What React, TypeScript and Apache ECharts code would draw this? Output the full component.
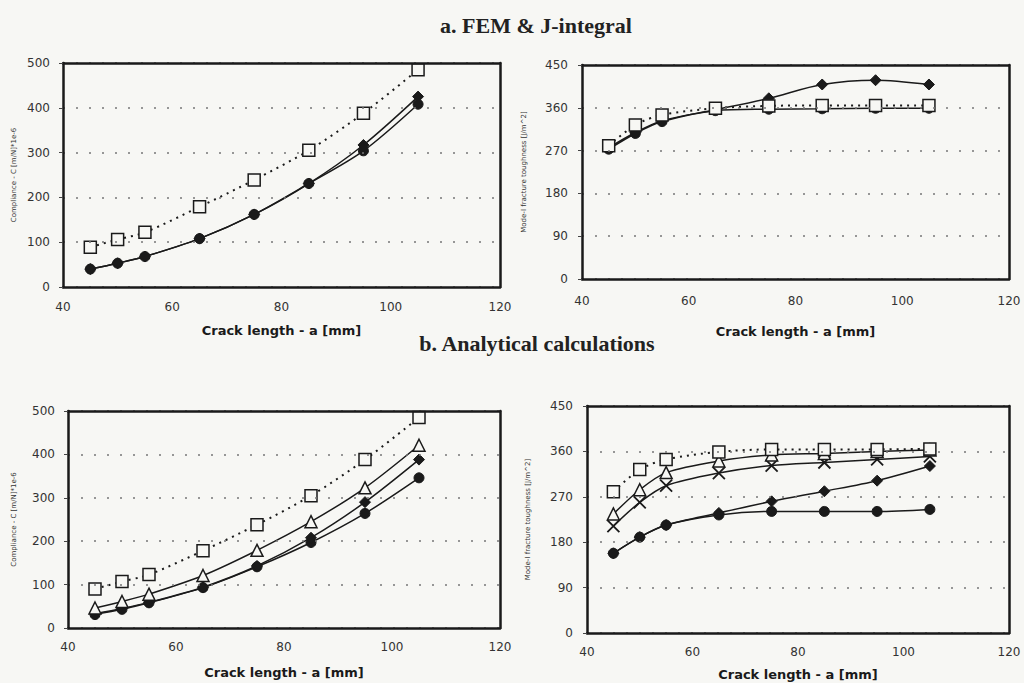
import React, { useEffect, useRef } from "react";
import * as echarts from "echarts";

const xVals = [45, 50, 55, 65, 75, 85, 95, 105];
const xTicks = [40, 60, 80, 100, 120];

// a. FEM & J-integral
const femCompSquare = [89, 106, 122, 179, 239, 305, 388, 485];
const femCompCircle = [40, 53, 68, 108, 162, 231, 304, 408];
const femCompDiamond = [40, 53, 68, 108, 162, 231, 317, 425];
const femToughSquare = [280, 324, 345, 359, 364, 365, 365, 365];
const femToughCircle = [273, 306, 331, 354, 357, 358, 359, 359];
const femToughDiamond = [276, 308, 333, 356, 380, 409, 418, 409];

// b. Analytical calculations
const anaCompSquare = [90, 107, 123, 178, 238, 305, 388, 485];
const anaCompTriangle = [46, 61, 78, 121, 179, 245, 323, 421];
const anaCompDiamond = [33, 45, 59, 94, 143, 208, 290, 388];
const anaCompCircle = [31, 43, 58, 93, 141, 197, 264, 346];
const anaToughSquare = [280, 324, 344, 359, 364, 364, 364, 365];
const anaToughTriangle = [236, 284, 318, 341, 353, 356, 360, 363];
const anaToughCross = [212, 259, 292, 317, 332, 338, 344, 350];
const anaToughDiamond = [158, 190, 214, 238, 261, 281, 302, 331];
const anaToughCircle = [158, 190, 214, 234, 241, 241, 241, 245];

const titleA = "a. FEM & J-integral";
const titleB = "b. Analytical calculations";
const xName = "Crack length - a [mm]";
const yCompName = "Compliance - C [m/N]*1e-6";
const yToughName = "Mode-I fracture toughness [J/m^2]";

const INK = "#1a1a1a";
const FONT = "DejaVu Sans";
const BG = "#f7f7f4";

type Kind = "square" | "circle" | "diamond" | "triangle" | "cross";

function mkSeries(arr: number[], kind: Kind, idx: number) {
  const data = xVals.map((x, i) => [x, arr[i]]);
  const dotted = kind === "square";
  let symbol: string = "circle";
  let symbolSize = 10;
  let itemStyle: any = { color: INK, borderColor: INK, borderWidth: 1 };
  if (kind === "square") {
    symbol = "rect";
    symbolSize = 12;
    itemStyle = { color: BG, borderColor: INK, borderWidth: 1.5 };
  } else if (kind === "triangle") {
    symbol = "triangle";
    symbolSize = 12;
    itemStyle = { color: BG, borderColor: INK, borderWidth: 1.5 };
  } else if (kind === "diamond") {
    symbol = "diamond";
    symbolSize = 11;
  } else if (kind === "cross") {
    symbol = "path://M0,0L10,10M10,0L0,10";
    symbolSize = 12;
    itemStyle = { color: "transparent", borderColor: INK, borderWidth: 1.8 };
  }
  return {
    type: "line",
    xAxisIndex: idx,
    yAxisIndex: idx,
    data,
    smooth: 0.3,
    symbol,
    symbolSize,
    showSymbol: true,
    itemStyle,
    lineStyle: dotted
      ? { color: INK, width: 2, type: [2, 5] }
      : { color: INK, width: 1.5 },
    z: kind === "square" ? 5 : 3,
  };
}

const frameLine = { show: true, onZero: false, lineStyle: { color: INK, width: 2.5 } };

function xAxis(idx: number, margin: number, nameGap: number) {
  return {
    type: "value",
    gridIndex: idx,
    position: "bottom",
    min: 40,
    max: 120,
    interval: 20,
    name: xName,
    nameLocation: "middle",
    nameGap,
    nameTextStyle: { fontFamily: FONT, fontSize: 13, fontWeight: "bold", color: INK },
    axisLine: frameLine,
    axisTick: { show: false },
    axisLabel: {
      margin,
      fontFamily: FONT,
      fontSize: 12,
      color: "#333",
      formatter: (v: number) => (xTicks.includes(v) ? String(v) : ""),
    },
    splitLine: { show: false },
    z: 6,
  };
}

function xAxisTop(idx: number) {
  return {
    type: "value",
    gridIndex: idx,
    position: "top",
    min: 40,
    max: 120,
    interval: 20,
    axisLine: frameLine,
    axisTick: { show: false },
    axisLabel: { show: false },
    splitLine: { show: false },
    z: 6,
  };
}

function yAxis(idx: number, max: number, interval: number, name: string, nameGap: number, margin: number) {
  return {
    type: "value",
    gridIndex: idx,
    position: "left",
    min: 0,
    max,
    interval,
    name,
    nameLocation: "middle",
    nameGap,
    nameRotate: 90,
    nameTextStyle: { fontFamily: FONT, fontSize: 7, color: "#333" },
    axisLine: frameLine,
    axisTick: { show: true, inside: false, length: 4, lineStyle: { color: "#444", width: 1 } },
    axisLabel: { margin, fontFamily: FONT, fontSize: 12, color: "#333" },
    splitLine: { show: true, lineStyle: { color: "#777", width: 1.5, type: [2, 11] } },
    z: 6,
  };
}

function yAxisRight(idx: number, max: number, interval: number) {
  return {
    type: "value",
    gridIndex: idx,
    position: "right",
    min: 0,
    max,
    interval,
    axisLine: frameLine,
    axisTick: { show: false },
    axisLabel: { show: false },
    splitLine: { show: false },
    z: 6,
  };
}

export default function App() {
  const ref = useRef<HTMLDivElement>(null);
  useEffect(() => {
    if (!ref.current) return;
    const chart = echarts.init(ref.current, undefined, { renderer: "svg" });
    const gridBase = { show: false, containLabel: false };
    const titleStyle = { fontFamily: "Liberation Serif", fontSize: 22, fontWeight: "bold", color: "#222" };
    chart.setOption({
      animation: false,
      backgroundColor: BG,
      title: [
        { text: titleA, left: 531, top: 9, textAlign: "center", textStyle: titleStyle },
        { text: titleB, left: 532, top: 327, textAlign: "center", textStyle: titleStyle },
      ],
      grid: [
        { ...gridBase, left: 63, right: 524, top: 63, bottom: 396 },
        { ...gridBase, left: 582, right: 15, top: 65, bottom: 404 },
        { ...gridBase, left: 68, right: 524, top: 411, bottom: 55 },
        { ...gridBase, left: 587, right: 15, top: 406, bottom: 50 },
      ],
      xAxis: [
        xAxis(0, 14, 37),
        xAxis(1, 16, 46),
        xAxis(2, 13, 38),
        xAxis(3, 13, 35),
        xAxisTop(0),
        xAxisTop(1),
        xAxisTop(2),
        xAxisTop(3),
      ],
      yAxis: [
        yAxis(0, 500, 100, yCompName, 46, 13),
        yAxis(1, 450, 90, yToughName, 55, 14),
        yAxis(2, 500, 100, yCompName, 51, 13),
        yAxis(3, 450, 90, yToughName, 56, 14),
        yAxisRight(0, 500, 100),
        yAxisRight(1, 450, 90),
        yAxisRight(2, 500, 100),
        yAxisRight(3, 450, 90),
      ],
      series: [
        mkSeries(femCompCircle, "circle", 0),
        mkSeries(femCompDiamond, "diamond", 0),
        mkSeries(femCompSquare, "square", 0),
        mkSeries(femToughCircle, "circle", 1),
        mkSeries(femToughDiamond, "diamond", 1),
        mkSeries(femToughSquare, "square", 1),
        mkSeries(anaCompCircle, "circle", 2),
        mkSeries(anaCompDiamond, "diamond", 2),
        mkSeries(anaCompTriangle, "triangle", 2),
        mkSeries(anaCompSquare, "square", 2),
        mkSeries(anaToughCircle, "circle", 3),
        mkSeries(anaToughDiamond, "diamond", 3),
        mkSeries(anaToughCross, "cross", 3),
        mkSeries(anaToughTriangle, "triangle", 3),
        mkSeries(anaToughSquare, "square", 3),
      ],
    });
    return () => chart.dispose();
  }, []);
  return (
    <div
      ref={ref}
      style={{ position: "fixed", left: 0, top: 0, width: 1024, height: 683 }}
    />
  );
}
